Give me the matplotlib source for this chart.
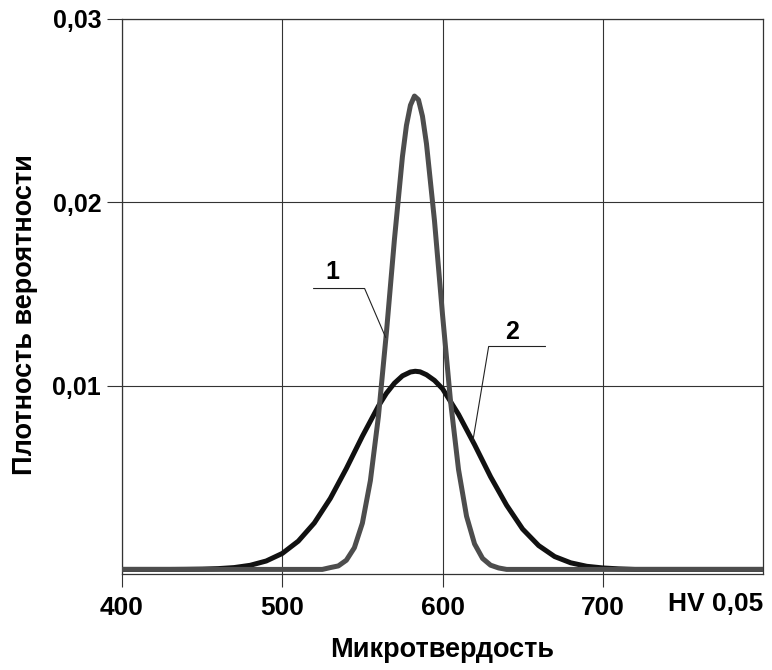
from matplotlib import pyplot as plt

plt.rcParams['font.family'] = ['Liberation Sans', 'DejaVu Sans']
plt.rcParams['font.weight'] = 'bold'

# curve 1 (narrow, grey)
x1 = [400, 525, 530, 535, 540, 545, 550, 555, 560, 565, 570, 575, 577.5, 580,
      582.5, 585, 587.5, 590, 595, 600, 605, 610, 615, 620, 625, 630, 635,
      640, 800]
y1 = [0.0, 0.0, 0.0001, 0.00019, 0.0005, 0.00118, 0.00252, 0.00484, 0.00833,
      0.01291, 0.01798, 0.0225, 0.0242, 0.0253, 0.0258, 0.0256, 0.0247,
      0.0232, 0.019, 0.0139, 0.00918, 0.00544, 0.0029, 0.00139, 0.0006,
      0.00023, 0.00008, 0.0, 0.0]

# curve 2 (wide, black)
x2 = [400, 430, 440, 450, 460, 470, 480, 490, 500, 510, 520, 530, 540, 550,
      560, 565, 570, 575, 580, 583, 586, 590, 595, 600, 610, 620, 630, 640,
      650, 660, 670, 680, 690, 700, 710, 720, 800]
y2 = [0.0, 0.0, 0.000006, 0.000017, 0.000043, 0.0001, 0.000224, 0.000459,
      0.00087, 0.00154, 0.00253, 0.00387, 0.0055, 0.00726, 0.0089, 0.0096,
      0.01015, 0.01055, 0.01076, 0.0108, 0.01077, 0.01061, 0.0103, 0.00985,
      0.00845, 0.0068, 0.00505, 0.0035, 0.0022, 0.0013, 0.0007, 0.00036,
      0.00017, 0.00008, 0.00003, 0.0, 0.0]

xticks = [400, 500, 600, 700]
yticks = [0.01, 0.02, 0.03]
ytick_labels = ['0,01', '0,02', '0,03']

fig = plt.figure(figsize=(7.72, 6.70), dpi=100)
ax = fig.add_axes([122 / 772, 1 - 574 / 670, (763 - 122) / 772, (574 - 19) / 670])

ax.plot(x2, y2, color='#111111', lw=3.6, solid_joinstyle='round', zorder=3)
ax.plot(x1, y1, color='#4d4d4d', lw=3.6, solid_joinstyle='round', zorder=4)

ax.set_xlim(400, 800)
ax.set_ylim(-0.00025, 0.03)
ax.set_xticks(xticks)
ax.set_yticks(yticks)
ax.set_yticklabels(ytick_labels)
ax.tick_params(axis='x', direction='out', length=9, width=0.8, pad=7,
               labelsize=19, color='#333333')
ax.tick_params(axis='y', direction='out', length=11, width=0.8, pad=4,
               labelsize=18, color='#333333')
ax.grid(True, color='#333333', lw=0.8)
ax.set_axisbelow(True)
for s in ax.spines.values():
    s.set_color('#333333')
    s.set_linewidth(0.9)

# leader lines and curve numbers
ax.plot([519.6, 551.4, 564.5], [0.01531, 0.01531, 0.01265], color='#222222',
        lw=0.8, zorder=5)
ax.text(531.5, 0.01619, '1', fontsize=18, ha='center', va='center')
ax.plot([664.2, 628.8, 618.9], [0.01215, 0.01215, 0.00697], color='#222222',
        lw=0.8, zorder=5)
ax.text(643.6, 0.01294, '2', fontsize=18, ha='center', va='center')

fig.text(716 / 772, 1 - 604 / 670, 'HV 0,05', fontsize=19, ha='center', va='center')
fig.text(442 / 772, 1 - 650 / 670, 'Микротвердость', fontsize=19.5,
         ha='center', va='center')
fig.text(25 / 772, 1 - 315 / 670, 'Плотность вероятности', fontsize=19.5,
         ha='center', va='center', rotation=90)

plt.savefig('out.png', dpi=100)
